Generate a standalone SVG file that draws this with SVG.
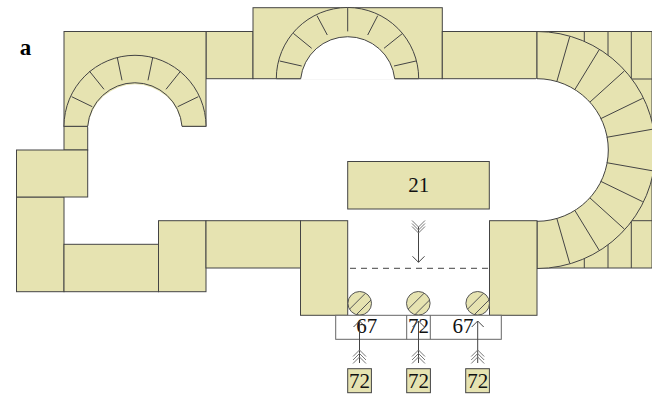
<svg xmlns="http://www.w3.org/2000/svg" width="652" height="398" viewBox="0 0 652 398">
<style>
.s{fill:#e6e3b1;stroke:#444;stroke-width:1}
.j{fill:none;stroke:#444;stroke-width:1}
.w{fill:#fff;stroke:#666;stroke-width:1}
.a{fill:none;stroke:#444;stroke-width:1}
.f{fill:none;stroke:#777;stroke-width:1}
text{font-family:"Liberation Serif","Times New Roman",serif;font-size:21px;fill:#111;text-anchor:middle}
</style>
<defs>
<g id="tail-up"><path class="f" d="M-6.5 13L0 6.5L6.5 13M-6.5 9.5L0 3L6.5 9.5M-6.5 6L0 -0.5L6.5 6"/></g>
<g id="tail-down"><path class="f" d="M-6.5 0L0 6.5L6.5 0M-6.5 3L0 9.5L6.5 3M-6.5 6L0 12.5L6.5 6"/></g>
<g id="col"><circle r="11.8" fill="#e6e3b1" stroke="#555"/><path d="M-10.2 5.9L5.9 -10.2M-3.3 11.3L11.3 -3.3" fill="none" stroke="#555"/></g>
</defs>
<g id="wall-right">
<rect class="s" x="537" y="31.5" width="115" height="236.5"/>
<path class="j" d="M584.3 31.5V268M608 31.5V268M631.3 31.5V268M631.3 79H652M608 150H652M631.3 220.7H652"/>
</g>
<g id="wall-top">
<rect class="s" x="206" y="31.5" width="47" height="47.2"/>
<rect class="s" x="253" y="7.7" width="189.3" height="71"/>
<rect class="s" x="442.3" y="31.5" width="94.7" height="47.2"/>
</g>
<g id="wall-left">
<rect class="s" x="64" y="31.5" width="142" height="94.8"/>
<rect class="s" x="64" y="126.3" width="23.7" height="23.7"/>
<rect class="s" x="16.5" y="197" width="47.5" height="94.7"/>
<rect class="s" x="16.5" y="150" width="71.2" height="47"/>
<rect class="s" x="64" y="244.3" width="94.5" height="47.4"/>
<rect class="s" x="158.5" y="220.7" width="47.5" height="71"/>
<rect class="s" x="206" y="220.7" width="94.5" height="47.3"/>
</g>
<g id="arch-left">
<path fill="#fff" d="M88 127.3V126.3A47.3 47.3 0 0 1 182 126.3V127.3Z"/>
<path class="s" d="M64 126.3A71 71 0 0 1 206 126.3H182A47.3 47.3 0 0 0 87.7 126.3Z"/>
<path class="j" d="M71.7 96.7L92.3 106.7M89.3 71L104 89.3M117.3 57.7L122 80.3M152.7 57.7L148 80.3M180.7 71L166 89.3M198.3 96.7L177.7 106.7"/>
</g>
<g id="arch-top">
<path fill="#fff" d="M300.7 79.7V78.7A47 47 0 0 1 394.7 78.7V79.7Z"/>
<path class="s" d="M276.3 78.7A71 71 0 0 1 418.7 78.7H394.7A47.3 47.3 0 0 0 300.7 78.7Z"/>
<path class="j" d="M347.7 7.7V31.4M279.7 61L301.7 66M293.3 33.3L311.7 48.3M317 15.7L327.3 35M377.7 15.7L367.7 35M402.7 33.3L384 48.3M416 61L394 66"/>
</g>
<g id="apse">
<path fill="#fff" d="M536 78.7H537A71.3 71.3 0 0 1 537 221.3H536Z"/>
<path class="s" d="M537 31.5A118.5 118.5 0 0 1 537 268.5V221.3A71.3 71.3 0 0 0 537 78.7Z"/>
<path class="j" d="M569.7 36.7L556.7 82M599 50L575 89.3M624.3 71L590 102M642.7 98.3L600.7 118.7M653.7 129L606.7 137.3M653.7 171L606.7 162.7M642.7 201.7L600.7 181.3M624.3 229L590 198M599 250L575 210.7M569.7 263.3L556.7 218"/>
</g>
<g id="jamb-left"><rect class="s" x="300.5" y="220.7" width="47.2" height="94.6"/></g>
<g id="jamb-right"><rect class="s" x="489.5" y="220.7" width="47.5" height="94.6"/></g>
<g id="node-21"><rect class="s" x="347.7" y="161.5" width="141.6" height="47.5"/><text x="418.7" y="191.5">21</text></g>
<g id="columns">
<use href="#col" x="359.7" y="303.3"/>
<use href="#col" x="418.3" y="303.3"/>
<use href="#col" x="477.7" y="303.3"/>
</g>
<g id="sill">
<rect class="w" x="335.7" y="315.3" width="165.6" height="24"/>
<path class="w" d="M406.7 315.3V339.3M430.3 315.3V339.3"/>
<text x="366.7" y="333.3">67</text><text x="418.5" y="333.3">72</text><text x="463" y="333.3">67</text>
</g>
<g id="connectors">
<path class="a" stroke-dasharray="6 5" d="M350 268.3H488"/>
<path class="a" d="M418.5 227V262.3M412.5 256.3L418.5 262.3L424.5 256.3"/>
<use href="#tail-down" x="418.5" y="220.5"/>
<path class="a" d="M359.5 363V321M353.5 327L359.5 321L365.5 327"/>
<path class="a" d="M418.5 363V321M412.5 327L418.5 321L424.5 327"/>
<path class="a" d="M477.7 363V321M471.7 327L477.7 321L483.7 327"/>
<use href="#tail-up" x="359.5" y="350.5"/>
<use href="#tail-up" x="418.5" y="350.5"/>
<use href="#tail-up" x="477.7" y="350.5"/>
</g>
<g id="node-72a"><rect class="s" x="347.7" y="368.7" width="23.7" height="24"/><text x="359.5" y="387.5">72</text></g>
<g id="node-72b"><rect class="s" x="406.7" y="368.7" width="23.7" height="24"/><text x="418.5" y="387.5">72</text></g>
<g id="node-72c"><rect class="s" x="465.7" y="368.7" width="23.7" height="24"/><text x="477.7" y="387.5">72</text></g>
<text x="25.5" y="54.5" style="font-weight:bold;font-size:23px;fill:#000">a</text>
</svg>
